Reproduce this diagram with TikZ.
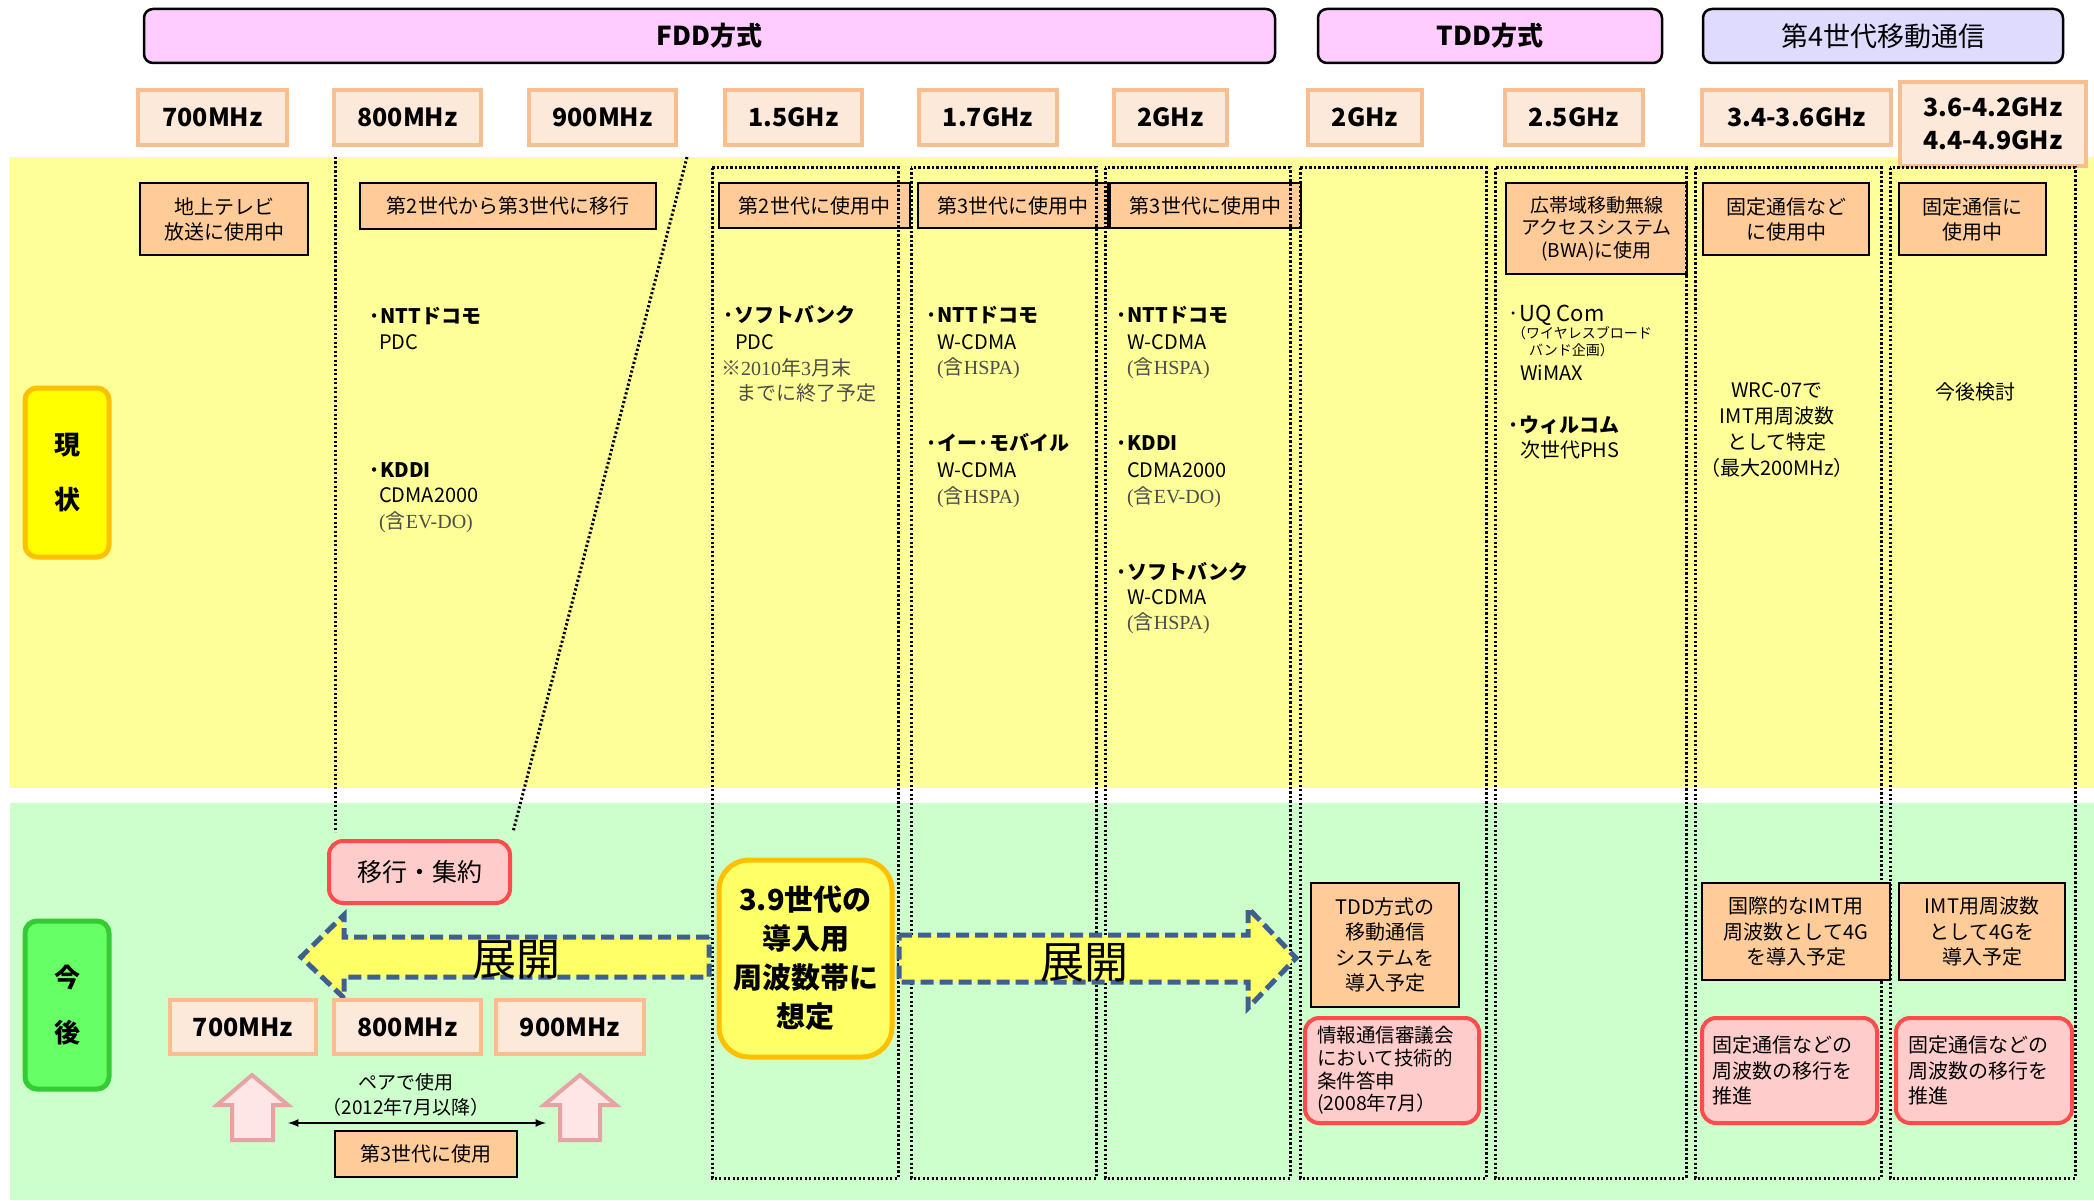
\documentclass[tikz,border=0pt]{standalone}
\usepackage{fontspec}
\setmainfont{Noto Sans CJK JP}
\newfontfamily\lserif{Liberation Serif}
\usetikzlibrary{arrows}

\definecolor{yellowband}{HTML}{FFFF99}
\definecolor{greenband}{HTML}{CCFFCC}
\definecolor{hdrpink}{HTML}{FFCCFF}
\definecolor{hdrlav}{HTML}{DFDBFF}
\definecolor{freqfill}{HTML}{FDE9D9}
\definecolor{freqline}{HTML}{F9BE8F}
\definecolor{useorange}{HTML}{FFCC99}
\definecolor{notepink}{HTML}{FFCCCC}
\definecolor{notered}{HTML}{FF4B4B}
\definecolor{nowfill}{HTML}{FFFF00}
\definecolor{nowline}{HTML}{FFC000}
\definecolor{futfill}{HTML}{66FF66}
\definecolor{futline}{HTML}{33CC33}
\definecolor{spreadfill}{HTML}{FFFF66}
\definecolor{spreadblue}{HTML}{3F5F8E}
\definecolor{upfill}{HTML}{FFE6E6}
\definecolor{upline}{HTML}{E6A3A3}

\newcommand\inclnote[1]{{\lserif(}含{\lserif #1)}}

\tikzset{
  hdrbox/.style={draw=black, line width=2.5pt, rounded corners=9, fill=hdrpink,
    inner sep=0, font=\bfseries\fontsize{26}{30}\selectfont},
  freqbox/.style={draw=freqline, line width=4pt, fill=freqfill, inner sep=0,
    align=center, font=\bfseries\fontsize{25}{33}\selectfont},
  usebox/.style={draw=black, line width=2.5pt, fill=useorange, inner sep=0,
    align=center, font=\fontsize{20}{25}\selectfont},
  notebox/.style={draw=notered, line width=4pt, fill=notepink, rounded corners=14,
    inner sep=0, font=\fontsize{20}{25.5}\selectfont},
  sidebox/.style={rounded corners=12, line width=5pt, inner sep=0, align=center,
    minimum width=84, font=\bfseries\fontsize{26}{55}\selectfont},
  body/.style={anchor=west, inner sep=0, font=\fontsize{20}{25}\selectfont},
  bodyb/.style={anchor=west, inner sep=0, font=\bfseries\fontsize{20}{25}\selectfont},
  gray/.style={text=black!70},
  colbox/.style={line width=3pt, dash pattern=on 2.2pt off 2.3pt},
  spread/.style={draw=spreadblue, line width=5pt, dash pattern=on 13pt off 6pt,
    fill=spreadfill, line join=miter},
  pairup/.style={draw=upline, line width=4pt, fill=upfill},
  bigtext/.style={inner sep=0, font=\fontsize{44}{44}\selectfont}
}

\begin{document}
\begin{tikzpicture}[x=1pt, y=-1pt]
        \useasboundingbox (0,0) rectangle (2094,1201);

        % bands
        \fill[yellowband] (10,157) rectangle (2094,788);
        \fill[greenband] (10,803) rectangle (2094,1200);

        \node[sidebox, draw=nowline, fill=nowfill, minimum height=169] (now) at (67,472.5) {現\\状};
        \node[sidebox, draw=futline, fill=futfill, minimum height=168] (future) at (67,1005) {今\\後};

        % headers
        \node[hdrbox, minimum width=1131, minimum height=54] (fdd) at (709.5,36) {FDD方式};
        \node[hdrbox, minimum width=344, minimum height=54] (tdd) at (1490,36) {TDD方式};
        \node[hdrbox, fill=hdrlav, font=\fontsize{27}{30}\selectfont, minimum width=360, minimum height=54] (gen4) at (1883,36) {第4世代移動通信};

        \node[freqbox, minimum width=149, minimum height=55] (f700) at (212.5,117.5) {700MHz};
        \node[freqbox, minimum width=147, minimum height=55] (f800) at (407.5,117.5) {800MHz};
        \node[freqbox, minimum width=147, minimum height=55] (f900) at (602.5,117.5) {900MHz};
        \node[freqbox, minimum width=137, minimum height=55] (f1500) at (793.5,117.5) {1.5GHz};
        \node[freqbox, minimum width=138, minimum height=55] (f1700) at (988,117.5) {1.7GHz};
        \node[freqbox, minimum width=113, minimum height=55] (f2000a) at (1170.5,117.5) {2GHz};
        \node[freqbox, minimum width=114, minimum height=55] (f2000b) at (1365,117.5) {2GHz};
        \node[freqbox, minimum width=138, minimum height=55] (f2500) at (1574,117.5) {2.5GHz};
        \node[freqbox, minimum width=189, minimum height=55] (f3400) at (1796.5,117.5) {3.4-3.6GHz};
        \node[freqbox, minimum width=186, minimum height=84] (f3600) at (1993,124) {3.6-4.2GHz\\4.4-4.9GHz};

        % current use
        \node[usebox, minimum width=168, minimum height=72] (tvuse) at (224,219) {地上テレビ\\放送に使用中};
        \node[usebox, minimum width=296, minimum height=46] (g2to3) at (508,206) {第2世代から第3世代に移行};
        \node[usebox, minimum width=191, minimum height=45] (g2use) at (814.5,205.5) {第2世代に使用中};
        \node[usebox, minimum width=190, minimum height=45] (g3useA) at (1013,205.5) {第3世代に使用中};
        \node[usebox, minimum width=191, minimum height=45] (g3useB) at (1205.5,205.5) {第3世代に使用中};
        \node[usebox, font=\fontsize{19}{22.5}\selectfont, minimum width=181, minimum height=91] (bwa) at (1596.5,228.5) {広帯域移動無線\\アクセスシステム\\(BWA)に使用};
        \node[usebox, minimum width=166, minimum height=72] (fixedA) at (1786,219) {固定通信など\\に使用中};
        \node[usebox, minimum width=147, minimum height=72] (fixedB) at (1972.5,219) {固定通信に\\使用中};

        % 800MHz / 900MHz
        \node[bodyb] (docomoA) at (368,316) {·NTTドコモ};
        \node[body] (pdcA) at (379,342) {PDC};
        \node[bodyb] (kddiA) at (368,470) {·KDDI};
        \node[body] (cdmaA) at (379,495) {CDMA2000};
        \node[body, gray] (evdoA) at (379,522) {\inclnote{EV-DO}};

        % 1.5GHz
        \node[bodyb] (sbA) at (722,315) {·ソフトバンク};
        \node[body] (pdcB) at (735,342) {PDC};
        \node[body, gray] (endA) at (721,368) {※{\lserif 2010}年{\lserif 3}月末};
        \node[body, gray] (endB) at (736,393) {までに終了予定};

        % 1.7GHz
        \node[bodyb] (docomoB) at (925,315) {·NTTドコモ};
        \node[body] (wcdmaB) at (937,342) {W-CDMA};
        \node[body, gray] (hspaB) at (937,368) {\inclnote{HSPA}};
        \node[bodyb] (emobile) at (925,443) {·イー·モバイル};
        \node[body] (wcdmaC) at (937,470) {W-CDMA};
        \node[body, gray] (hspaC) at (937,497) {\inclnote{HSPA}};

        % 2GHz
        \node[bodyb] (docomoC) at (1115,315) {·NTTドコモ};
        \node[body] (wcdmaD) at (1127,342) {W-CDMA};
        \node[body, gray] (hspaD) at (1127,368) {\inclnote{HSPA}};
        \node[bodyb] (kddiB) at (1115,443) {·KDDI};
        \node[body] (cdmaB) at (1127,470) {CDMA2000};
        \node[body, gray] (evdoB) at (1127,497) {\inclnote{EV-DO}};
        \node[bodyb] (sbB) at (1115,572) {·ソフトバンク};
        \node[body] (wcdmaE) at (1127,597) {W-CDMA};
        \node[body, gray] (hspaE) at (1127,623) {\inclnote{HSPA}};

        % 2.5GHz
        \node[body, font=\fontsize{22}{25}\selectfont] (uq) at (1507,315) {·UQ Com};
        \node[body, align=left, font=\fontsize{14}{17}\selectfont] (uqsub) at (1512,341.5) {（ワイヤレスブロード\\\hspace*{17pt}バンド企画）};
        \node[body] (wimax) at (1520,373) {WiMAX};
        \node[bodyb] (willcom) at (1507,425) {·ウィルコム};
        \node[body] (phs) at (1520,450) {次世代PHS};

        % 3.4GHz and up
        \node[inner sep=0, align=center, font=\fontsize{20}{25.7}\selectfont] (wrc) at (1777,430) {WRC-07で\\IMT用周波数\\として特定\\（最大200MHz）};
        \node[inner sep=0, font=\fontsize{20}{25}\selectfont] (review) at (1975,392) {今後検討};

        % 800MHz column lines
        \draw[colbox] (335,157) -- (335,832);
        \draw[colbox] (687,157) -- (513,832);

        % columns
        \draw[colbox] (712,168) rectangle (898,1178);
        \draw[colbox] (911,168) rectangle (1096,1178);
        \draw[colbox] (1105,168) rectangle (1290,1178);
        \draw[colbox] (1300,168) rectangle (1486,1178);
        \draw[colbox] (1495,168) rectangle (1686,1178);
        \draw[colbox] (1695,168) rectangle (1881,1178);
        \draw[colbox] (1890,168) rectangle (2075,1178);

        % future
        \node[notebox, font=\fontsize{25}{30}\selectfont, minimum width=181, minimum height=62] (ikou) at (419.5,872) {移行・集約};

        \draw[spread] (709,937) -- (344,937) -- (344,915) -- (301,957) -- (344,998) -- (344,977) -- (709,977) -- cycle;
        \node[bigtext] (spreadL) at (516,960) {展開};
        \draw[spread] (899,935) -- (1248,935) -- (1248,908) -- (1296,958) -- (1248,1008) -- (1248,982) -- (899,982) -- cycle;
        \node[bigtext] (spreadR) at (1084,963) {展開};

        \node[draw=nowline, fill=spreadfill, line width=5pt, rounded corners=30, inner sep=0, minimum width=173, minimum height=197, align=center, font=\bfseries\fontsize{29}{39}\selectfont] (g39) at (805.5,958.5) {3.9世代の\\導入用\\周波数帯に\\想定};

        \node[freqbox, minimum width=146, minimum height=54] (l700) at (243,1027) {700MHz};
        \node[freqbox, minimum width=147, minimum height=54] (l800) at (407.5,1027) {800MHz};
        \node[freqbox, minimum width=148, minimum height=54] (l900) at (570,1027) {900MHz};

        \draw[pairup] (252,1075) -- (288,1105) -- (273,1105) -- (273,1140) -- (232,1140) -- (232,1105) -- (217,1105) -- cycle;
        \draw[pairup] (580,1075) -- (616,1105) -- (600,1105) -- (600,1140) -- (560,1140) -- (560,1105) -- (544,1105) -- cycle;
        \node[inner sep=0, align=center, font=\fontsize{19}{25}\selectfont] (pair) at (406,1095) {ペアで使用\\（2012年7月以降）};
        \coordinate (pairL) at (288,1123);
        \coordinate (pairR) at (546,1123);
        \draw[latex-latex, line width=2.5pt] (pairL) -- (pairR);
        \node[usebox, minimum width=182, minimum height=46] (g3use3) at (426,1154) {第3世代に使用};

        \node[usebox, font=\fontsize{20}{25.3}\selectfont, minimum width=148, minimum height=124] (tddplan) at (1385,945) {TDD方式の\\移動通信\\システムを\\導入予定};
        \node[notebox, font=\fontsize{19.5}{22.7}\selectfont, align=left, text width=150, minimum width=174, minimum height=105] (council) at (1392,1070.5) {情報通信審議会\\において技術的\\条件答申\\(2008年7月）};

        \node[usebox, font=\fontsize{20}{25.5}\selectfont, minimum width=188, minimum height=97] (imtA) at (1796,931.5) {国際的なIMT用\\周波数として4G\\を導入予定};
        \node[usebox, font=\fontsize{20}{25.5}\selectfont, minimum width=166, minimum height=97] (imtB) at (1982,931.5) {IMT用周波数\\として4Gを\\導入予定};
        \node[notebox, align=left, text width=155, minimum width=175, minimum height=105] (moveA) at (1789.5,1070.5) {固定通信などの\\周波数の移行を\\推進};
        \node[notebox, align=left, text width=152, minimum width=176, minimum height=105] (moveB) at (1984,1070.5) {固定通信などの\\周波数の移行を\\推進};
\end{tikzpicture}
\end{document}
